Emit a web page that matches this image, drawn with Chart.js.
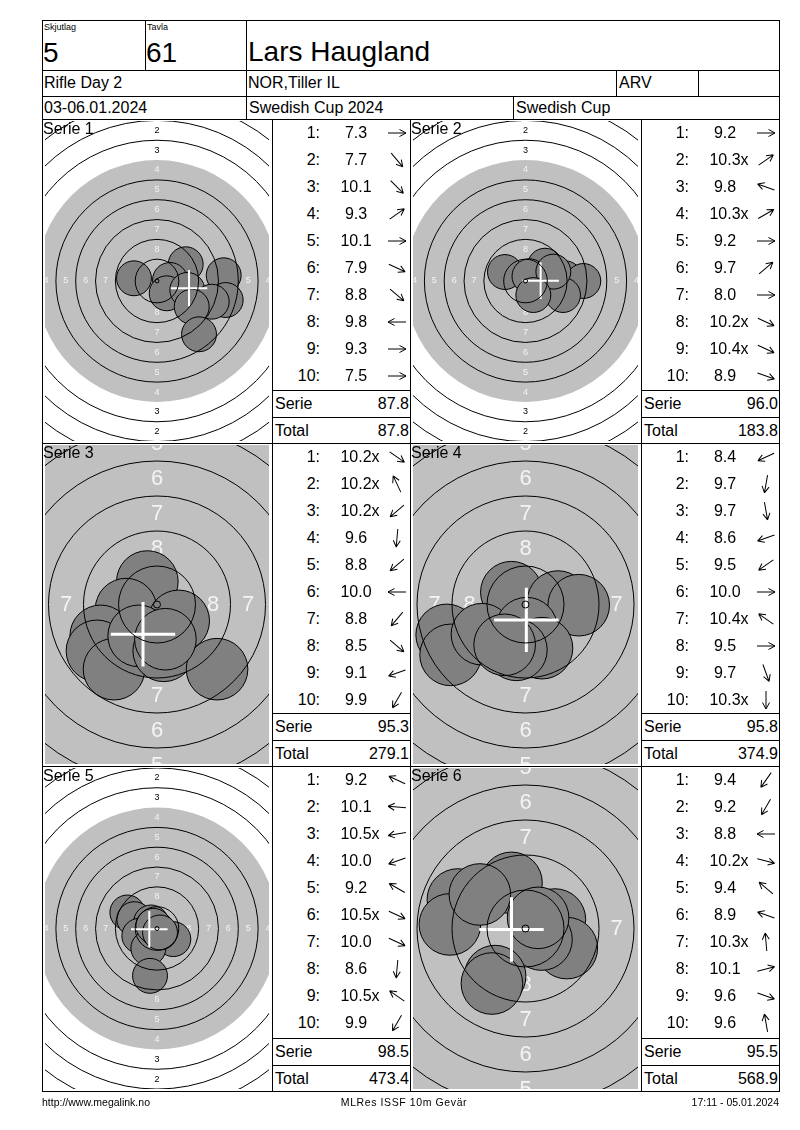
<!DOCTYPE html>
<html>
<head>
<meta charset="utf-8">
<title>Lars Haugland - Swedish Cup 2024</title>
<script src="https://cdn.jsdelivr.net/npm/chart.js"></script>
<style>
    body { margin: 0; background: #fff; font-family: "Liberation Sans", Arial, sans-serif; color: #000; }
    #page { position: relative; width: 800px; height: 1130px; overflow: hidden; }
    .t { position: absolute; white-space: nowrap; line-height: 1; }
    .hl { position: absolute; height: 0; border-top: 1px solid #000; }
    .vl { position: absolute; width: 0; border-left: 1px solid #000; }
    canvas { position: absolute; }
    svg { position: absolute; overflow: visible; }
</style>
</head>
<body>
<div id="page"></div>
<script>
    // header data
    const SQUAD = '5';
    const TARGET_NO = '61';
    const SHOOTER = 'Lars Haugland';
    const CLASS_NAME = 'Rifle Day 2';
    const CLUB = 'NOR,Tiller IL';
    const CODE = 'ARV';
    const DATES = '03-06.01.2024';
    const EVENT = 'Swedish Cup 2024';
    const CUP = 'Swedish Cup';

    // series data
    const SERIES_NAMES = ['Serie 1', 'Serie 2', 'Serie 3', 'Serie 4', 'Serie 5', 'Serie 6'];
    const SHOT_SCORES = [
        ['7.3', '7.7', '10.1', '9.3', '10.1', '7.9', '8.8', '9.8', '9.3', '7.5'],
        ['9.2', '10.3x', '9.8', '10.3x', '9.2', '9.7', '8.0', '10.2x', '10.4x', '8.9'],
        ['10.2x', '10.2x', '10.2x', '9.6', '8.8', '10.0', '8.8', '8.5', '9.1', '9.9'],
        ['8.4', '9.7', '9.7', '8.6', '9.5', '10.0', '10.4x', '9.5', '9.7', '10.3x'],
        ['9.2', '10.1', '10.5x', '10.0', '9.2', '10.5x', '10.0', '8.6', '10.5x', '9.9'],
        ['9.4', '9.2', '8.8', '10.2x', '9.4', '8.9', '10.3x', '10.1', '9.6', '9.6']
    ];
    const SERIE_SUMS = ['87.8', '96.0', '95.3', '95.8', '98.5', '95.5'];
    const RUNNING_TOTALS = ['87.8', '183.8', '279.1', '374.9', '473.4', '568.9'];
    // direction arrows in degrees (0 = right, 90 = up)
    const ARROW_DIR = [
        [0, -50, -45, 35, 0, -25, -40, 180, 0, 0],
        [0, 35, 160, 30, 0, 40, 0, -25, -25, -20],
        [-35, 115, 220, 265, 220, 180, 230, -40, 200, 240],
        [205, 260, 280, 200, 215, 0, 145, 0, -70, 270],
        [155, 175, 190, 200, 150, -25, -25, 265, 145, 240],
        [235, 240, 180, -15, 140, 160, 95, 15, -20, 100]
    ];
    // shot centres in mm from the target centre (y up)
    const SHOT_X = [
        [-2.90, 3.62, 1.64, 1.22, 3.82, 8.41, 8.66, 6.90, 4.38, 5.30],
        [-2.59, 2.46, 1.41, 1.62, 4.98, 7.29, 4.73, 0.50, 3.51, 0.99],
        [-0.69, -2.21, 1.55, -4.02, -4.29, -3.07, -1.31, 0.48, 4.29, 0.60],
        [-1.01, 2.32, 3.80, -5.63, -5.35, -3.11, 0.08, 1.18, -0.65, -1.49],
        [-3.74, -2.86, -0.76, -2.23, 2.06, -1.09, -0.88, -0.04, -0.46, 0.38],
        [-1.00, -4.83, -5.40, -3.26, 2.10, 2.95, 1.14, -2.17, -2.40, 0.90]
    ];
    const SHOT_Y = [
        [0.34, 2.11, 0.13, -1.55, -1.13, 0.72, -2.40, -2.61, -3.24, -6.72],
        [1.13, 1.93, -0.29, -0.92, 0.34, 0.00, -1.77, 0.60, 1.18, -1.77],
        [1.64, -0.33, -1.17, -2.24, -3.31, -4.62, -2.24, -3.31, -4.62, -2.48],
        [0.88, 0.21, -0.05, -2.17, -3.60, -2.12, -1.69, -3.12, -3.24, -2.88],
        [2.02, 1.18, 0.76, -0.92, -1.34, -2.48, -5.97, -0.08, 0.34, -0.50],
        [3.26, 2.07, 0.29, 2.43, 0.64, -1.40, -0.79, -3.40, -3.93, 0.76]
    ];
    // mean point of impact (white cross)
    const MPI_X = [4.04, 1.91, -1.00, 0.06, -0.97, -1.00];
    const MPI_Y = [-0.92, 0.04, -2.12, -1.10, -0.08, -0.07];
    // display zoom of each target, pixels per mm
    const PX_PER_MM = [7.93, 7.93, 14, 14, 7.93, 14];

    // ISSF 10m air rifle target
    const RING_NO = [1, 2, 3, 4, 5, 6, 7, 8, 9, 10];
    const RING_R_MM = [22.75, 20.25, 17.75, 15.25, 12.75, 10.25, 7.75, 5.25, 2.75, 0.25];
    const SHOT_R_MM = 2.2;
    const MPI_R_MM = 2.3;

    // page layout
    const COL_X = [42, 410];
    const COL_W = [230, 231];
    const LIST_W = 138;
    const ROW_Y = [119, 443, 766];
    const ROW_H = [324, 323, 325];
    const FONT = '"Liberation Sans", Arial, sans-serif';

    const page = document.getElementById('page');

    function addText(str, x, cy, size, align, extra) {
        let d = document.createElement('div');
        d.className = 't';
        d.textContent = str;
        d.style.fontSize = size + 'px';
        d.style.top = (cy - 0.49 * size) + 'px';
        if (align === 'right') {
            d.style.right = (800 - x) + 'px';
        } else if (align === 'center') {
            d.style.left = (x - 150) + 'px';
            d.style.width = '300px';
            d.style.textAlign = 'center';
        } else {
            d.style.left = x + 'px';
        }
        if (extra) Object.assign(d.style, extra);
        page.appendChild(d);
        return d;
    }
    function hLine(x1, x2, y) {
        let d = document.createElement('div');
        d.className = 'hl';
        d.style.left = x1 + 'px'; d.style.top = y + 'px'; d.style.width = (x2 - x1 + 1) + 'px';
        page.appendChild(d);
    }
    function vLine(x, y1, y2) {
        let d = document.createElement('div');
        d.className = 'vl';
        d.style.left = x + 'px'; d.style.top = y1 + 'px'; d.style.height = (y2 - y1 + 1) + 'px';
        page.appendChild(d);
    }
    function addArrow(cx, cy, deg) {
        let ns = 'http://www.w3.org/2000/svg';
        let s = document.createElementNS(ns, 'svg');
        s.setAttribute('width', 22); s.setAttribute('height', 22);
        s.setAttribute('viewBox', '-11 -11 22 22');
        s.style.left = (cx - 11) + 'px'; s.style.top = (cy - 11) + 'px';
        let p = document.createElementNS(ns, 'path');
        p.setAttribute('d', 'M-9 0H9M9 0L2.5 -3.5M9 0L2.5 3.5');
        p.setAttribute('stroke', '#000'); p.setAttribute('fill', 'none'); p.setAttribute('stroke-width', '1');
        p.setAttribute('transform', 'rotate(' + (-deg) + ')');
        s.appendChild(p);
        page.appendChild(s);
    }

    const mmToPx = (chart, mm) => chart.scales.x.getPixelForValue(mm) - chart.scales.x.getPixelForValue(0);

    // target face: grey black-area and ring numbers below the shots, ring lines on top
    const targetFace = {
        id: 'targetFace',
        beforeDatasetsDraw(chart, args, opts) {
            const {ctx, chartArea: a, scales: {x, y}} = chart;
            const cx = x.getPixelForValue(0), cy = y.getPixelForValue(0);
            ctx.save();
            ctx.beginPath(); ctx.rect(a.left, a.top, a.width, a.height); ctx.clip();
            ctx.fillStyle = '#c0c0c0';
            ctx.beginPath(); ctx.arc(cx, cy, mmToPx(chart, RING_R_MM[3]), 0, 2 * Math.PI); ctx.fill();
            ctx.font = opts.labelSize + 'px ' + FONT;
            ctx.textAlign = 'center';
            ctx.textBaseline = 'middle';
            for (let i = 0; i < 8; i++) {
                const d = mmToPx(chart, (RING_R_MM[i] + RING_R_MM[i + 1]) / 2);
                ctx.fillStyle = RING_NO[i] >= 4 ? '#f4f4f4' : '#000000';
                ctx.fillText(RING_NO[i], cx, cy - d);
                ctx.fillText(RING_NO[i], cx, cy + d);
                ctx.fillText(RING_NO[i], cx - d, cy);
                ctx.fillText(RING_NO[i], cx + d, cy);
            }
            ctx.restore();
        },
        afterDatasetsDraw(chart) {
            const {ctx, chartArea: a, scales: {x, y}} = chart;
            const cx = x.getPixelForValue(0), cy = y.getPixelForValue(0);
            ctx.save();
            ctx.beginPath(); ctx.rect(a.left, a.top, a.width, a.height); ctx.clip();
            ctx.strokeStyle = '#000';
            ctx.lineWidth = 1;
            RING_R_MM.forEach((r, i) => {
                if (RING_NO[i] === 4) return; // edge of the black area has no line
                ctx.beginPath(); ctx.arc(cx, cy, mmToPx(chart, r), 0, 2 * Math.PI); ctx.stroke();
            });
            ctx.restore();
        }
    };

    // header
    hLine(42, 779, 20); hLine(42, 779, 70); hLine(42, 779, 96); hLine(42, 779, 119);
    vLine(42, 20, 1091); vLine(779, 20, 1091);
    vLine(145, 20, 70); vLine(246, 20, 119); vLine(616, 70, 96); vLine(698, 70, 96); vLine(513, 96, 119);
    addText('Skjutlag', 44, 27, 9);
    addText('Tavla', 147, 27, 9);
    addText(SQUAD, 43, 53, 28);
    addText(TARGET_NO, 146, 53, 28);
    addText(SHOOTER, 248, 52, 28);
    addText(CLASS_NAME, 44, 83, 16);
    addText(CLUB, 248, 83, 16);
    addText(CODE, 619, 83, 16);
    addText(DATES, 44, 108, 16);
    addText(EVENT, 249, 108, 16);
    addText(CUP, 516, 108, 16);

    SERIES_NAMES.forEach((name, i) => {
        const row = Math.floor(i / 2), col = i % 2;
        const left = COL_X[col], top = ROW_Y[row], w = COL_W[col], h = ROW_H[row];
        const ppm = PX_PER_MM[i];
        const big = ppm > 10;

        let canvas = document.createElement('canvas');
        canvas.width = w; canvas.height = h;
        canvas.style.left = left + 'px'; canvas.style.top = top + 'px';
        page.appendChild(canvas);

        // axis ranges in mm, so that one mm is ppm pixels on both axes
        const halfX = (w - 6) / 2 / ppm, halfY = (h - 4) / 2 / ppm;
        const shots = SHOT_X[i].map((sx, k) => ({x: sx, y: SHOT_Y[i][k]}));

        new Chart(canvas, {
            type: 'bubble',
            data: {
                datasets: [{
                    label: 'MPI',
                    data: [{x: MPI_X[i], y: MPI_Y[i]}],
                    pointStyle: 'cross',
                    borderColor: '#ffffff',
                    backgroundColor: '#ffffff',
                    borderWidth: big ? 3 : 2,
                    radius: MPI_R_MM * ppm
                }, {
                    label: name,
                    data: shots,
                    backgroundColor: '#808080',
                    borderColor: '#000000',
                    borderWidth: 1,
                    radius: SHOT_R_MM * ppm
                }]
            },
            options: {
                responsive: false,
                animation: false,
                events: [],
                layout: { padding: { left: 3, right: 3, top: 2, bottom: 2 }, autoPadding: false },
                scales: {
                    x: { type: 'linear', display: false, min: -halfX, max: halfX },
                    y: { type: 'linear', display: false, min: -halfY, max: halfY }
                },
                plugins: {
                    legend: { display: false },
                    tooltip: { enabled: false },
                    targetFace: { labelSize: big ? 22 : 9 }
                }
            },
            plugins: [targetFace]
        });

        addText(name, left + 1, top + 10, 16);

        // shot list
        const lx = left + w;
        SHOT_SCORES[i].forEach((s, k) => {
            const cy = top + 14.3 + k * 26.95;
            addText((k + 1) + ':', lx + 48, cy, 16, 'right');
            let v = addText('', lx + 84, cy, 16, 'center');
            let num = document.createElement('span');
            num.style.position = 'relative';
            num.textContent = s.replace('x', '');
            if (s.endsWith('x')) {
                let xs = document.createElement('span');
                xs.style.position = 'absolute';
                xs.style.left = '100%';
                xs.textContent = 'x';
                num.appendChild(xs);
            }
            v.appendChild(num);
            addArrow(lx + 125, cy, ARROW_DIR[i][k]);
        });
        const y1 = top + h - 53, y2 = top + h - 26;
        hLine(lx, lx + LIST_W, y1);
        hLine(lx, lx + LIST_W, y2);
        addText('Serie', lx + 3, y1 + 13.5, 16);
        addText(SERIE_SUMS[i], lx + LIST_W - 1, y1 + 13.5, 16, 'right');
        addText('Total', lx + 3, y2 + 13.5, 16);
        addText(RUNNING_TOTALS[i], lx + LIST_W - 1, y2 + 13.5, 16, 'right');
    });

    // panel grid
    [272, 410, 641].forEach(x => vLine(x, 119, 1091));
    hLine(42, 779, 443); hLine(42, 779, 766); hLine(42, 779, 1091);

    // footer
    addText('http://www.megalink.no', 42, 1102, 10.5);
    addText('MLRes ISSF 10m Gevär', 404, 1102, 10.5, 'center', { letterSpacing: '0.6px' });
    addText('17:11 - 05.01.2024', 779, 1102, 10.5, 'right');
</script>
</body>
</html>
